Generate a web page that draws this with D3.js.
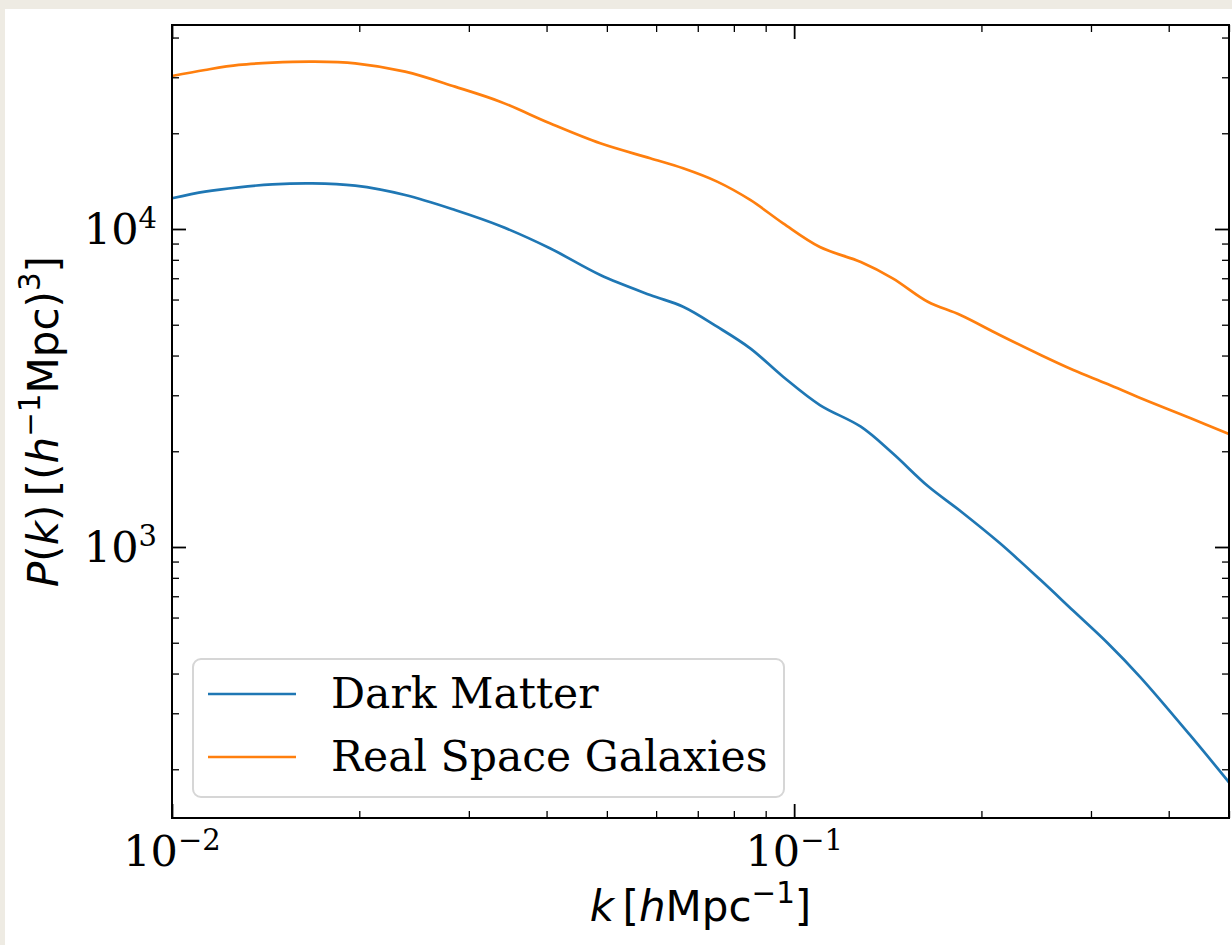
<!DOCTYPE html>
<html>
<head>
<meta charset="utf-8">
<script src="https://cdn.jsdelivr.net/npm/d3@7"></script>
<style>
  html, body { margin: 0; padding: 0; background: #eeebe3; }
  svg { display: block; }
</style>
</head>
<body>
<svg id="root" width="1232" height="945"></svg>
<script>
// wavenumbers k [h/Mpc]
var kValues = [0.0100, 0.0113, 0.0128, 0.0145, 0.0168, 0.0197, 0.0237, 0.0285, 0.0337, 0.0405,
  0.0488, 0.0587, 0.0663, 0.0752, 0.0850, 0.0960, 0.110, 0.128, 0.144, 0.164,
  0.185, 0.214, 0.249, 0.281, 0.319, 0.360, 0.433, 0.500];
var pkDarkMatter = [12490, 13100, 13525, 13820, 13920, 13685, 12790, 11475, 10220, 8696,
  7166, 6202, 5695, 4929, 4214, 3431, 2795, 2389, 1971, 1555,
  1298, 1029, 787, 630, 499, 390, 256, 182];
var pkGalaxies = [30280, 31623, 32800, 33340, 33580, 33190, 31240, 28030, 25140, 21500,
  18600, 16690, 15520, 14090, 12340, 10420, 8778, 7873, 6998, 5906,
  5365, 4642, 4016, 3602, 3254, 2941, 2544, 2266];
var seriesNames = ['Dark Matter', 'Real Space Galaxies'];
var seriesColors = ['#1f77b4', '#ff7f0e'];
var xTickLabels = [{ v: 0.01, exp: '\u22122' }, { v: 0.1, exp: '\u22121' }];
var yTickLabels = [{ v: 1e3, exp: '3' }, { v: 1e4, exp: '4' }];

function drawChart() {
  var W = 1232, H = 945;
  var mLeft = 172, mRight = 1229, mTop = 25, mBottom = 818;
  var svg = d3.select('#root');

  // paper frame
  svg.append('rect').attr('x', 5).attr('y', 9).attr('width', W - 5).attr('height', H - 9).attr('fill', '#ffffff');

  var x = d3.scaleLog().domain([0.01, 0.5]).range([mLeft, mRight]);
  var y = d3.scaleLog().domain([Math.pow(10, 2.1478), Math.pow(10, 4.6415)]).range([mBottom, mTop]);

  function isMajor(v) {
    var l = Math.log10(v);
    return Math.abs(l - Math.round(l)) < 1e-6;
  }
  var xMinor = x.ticks().filter(function (v) { return !isMajor(v); });
  var xMajor = x.ticks().filter(isMajor);
  var yMinor = y.ticks().filter(function (v) { return !isMajor(v); });
  var yMajor = y.ticks().filter(isMajor);

  function tickLayer(axis, tx, ty, vals, size, width) {
    var g = svg.append('g')
      .attr('transform', 'translate(' + tx + ',' + ty + ')')
      .call(axis.tickValues(vals).tickSize(-size).tickFormat(''));
    g.select('.domain').remove();
    g.selectAll('.tick line').attr('stroke', '#000').attr('stroke-width', width);
  }
  [[d3.axisBottom(x), 0, mBottom, xMinor, 7, 1.3], [d3.axisBottom(x), 0, mBottom, xMajor, 14, 1.8],
   [d3.axisTop(x), 0, mTop, xMinor, 7, 1.3], [d3.axisTop(x), 0, mTop, xMajor, 14, 1.8],
   [d3.axisLeft(y), mLeft, 0, yMinor, 7, 1.3], [d3.axisLeft(y), mLeft, 0, yMajor, 14, 1.8],
   [d3.axisRight(y), mRight, 0, yMinor, 7, 1.3], [d3.axisRight(y), mRight, 0, yMajor, 14, 1.8]
  ].forEach(function (a) { tickLayer(a[0], a[1], a[2], a[3], a[4], a[5]); });

  // curves
  var line = d3.line()
    .x(function (d) { return x(d[0]); })
    .y(function (d) { return y(d[1]); })
    .curve(d3.curveCatmullRom);
  [pkDarkMatter, pkGalaxies].forEach(function (vals, i) {
    svg.append('path')
      .datum(kValues.map(function (k, j) { return [k, vals[j]]; }))
      .attr('fill', 'none')
      .attr('stroke', seriesColors[i])
      .attr('stroke-width', 2.7)
      .attr('stroke-linejoin', 'round')
      .attr('d', line);
  });

  // frame
  svg.append('rect')
    .attr('x', mLeft).attr('y', mTop)
    .attr('width', mRight - mLeft).attr('height', mBottom - mTop)
    .attr('fill', 'none').attr('stroke', '#000').attr('stroke-width', 2);

  // power-of-ten tick labels
  var serif = 'DejaVu Serif, serif';
  var sans = 'DejaVu Sans, sans-serif';
  function powerLabel(px, py, anchor, exp) {
    var t = svg.append('text')
      .attr('x', px).attr('y', py)
      .attr('text-anchor', anchor)
      .attr('font-family', serif)
      .attr('font-size', 43)
      .attr('fill', '#000');
    t.append('tspan').text('10');
    t.append('tspan').attr('font-size', 29).attr('dy', -16).text(exp);
  }
  xTickLabels.forEach(function (d) { powerLabel(x(d.v), 866, 'middle', d.exp); });
  yTickLabels.forEach(function (d) { powerLabel(157, y(d.v) + 15, 'end', d.exp); });

  // math-style label builder
  function mathLabel(t, parts, size) {
    var shift = 0;
    parts.forEach(function (p) {
      var s = t.append('tspan').text(p.t);
      if (p.i) s.attr('font-style', 'italic');
      var target = p.sup ? -size * 0.42 : 0;
      if (target !== shift) { s.attr('dy', target - shift); shift = target; }
      if (p.sup) s.attr('font-size', size * 0.7);
    });
  }

  var labelSize = 42;
  var xl = svg.append('text')
    .attr('x', (mLeft + mRight) / 2).attr('y', 921)
    .attr('text-anchor', 'middle')
    .attr('font-family', sans).attr('font-size', labelSize).attr('fill', '#000');
  mathLabel(xl, [{ t: 'k', i: true }, { t: '\u2009[' }, { t: 'h', i: true }, { t: 'Mpc' },
    { t: '\u22121', sup: true }, { t: ']' }], labelSize);

  var yl = svg.append('text')
    .attr('transform', 'translate(58,' + ((mTop + mBottom) / 2) + ') rotate(-90)')
    .attr('text-anchor', 'middle')
    .attr('font-family', sans).attr('font-size', labelSize).attr('fill', '#000');
  mathLabel(yl, [{ t: 'P', i: true }, { t: '(' }, { t: 'k', i: true }, { t: ')\u2009[(' },
    { t: 'h', i: true }, { t: '\u22121', sup: true }, { t: 'Mpc)' }, { t: '3', sup: true }, { t: ']' }], labelSize);

  // legend
  var lg = svg.append('g');
  lg.append('rect')
    .attr('x', 193).attr('y', 659).attr('width', 591).attr('height', 138)
    .attr('rx', 8).attr('ry', 8)
    .attr('fill', 'rgba(255,255,255,0.8)')
    .attr('stroke', '#d6d6d6').attr('stroke-width', 2);
  seriesNames.forEach(function (name, i) {
    var ly = 694 + i * 63;
    lg.append('line')
      .attr('x1', 208).attr('x2', 296).attr('y1', ly).attr('y2', ly)
      .attr('stroke', seriesColors[i]).attr('stroke-width', 2.7);
    lg.append('text')
      .attr('x', 331).attr('y', ly + 14)
      .attr('font-family', serif).attr('font-size', 42.5).attr('fill', '#000')
      .text(name);
  });
}

drawChart();
</script>
</body>
</html>
